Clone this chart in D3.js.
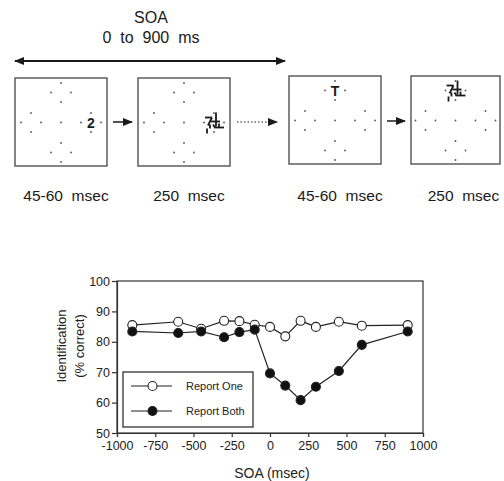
<!DOCTYPE html>
<html><head><meta charset="utf-8">
<script src="https://cdn.jsdelivr.net/npm/d3@7"></script>
<style>
body{margin:0;background:#fff;}
svg{display:block;font-family:"Liberation Sans",Arial,Helvetica,sans-serif;}
</style></head>
<body><svg id="c" width="504" height="481"></svg>
<script>
// ---- data ----
const soa = [-900, -600, -450, -300, -200, -100, 0, 100, 200, 300, 450, 600, 900];
const reportOne  = [85.5, 86.6, 84.3, 86.9, 86.8, 85.6, 84.9, 81.8, 86.9, 84.9, 86.6, 85.3, 85.5];
const reportBoth = [83.4, 82.9, 83.4, 81.5, 83.2, 84.0, 69.6, 65.6, 60.8, 65.2, 70.4, 79.0, 83.4];
const seriesNames = ["Report One", "Report Both"];
const xTicks = [-1000, -750, -500, -250, 0, 250, 500, 750, 1000];
const yTicks = [50, 60, 70, 80, 90, 100];
const frameLabels = ["45-60  msec", "250  msec", "45-60  msec", "250  msec"];
const frameItems = ["2", "mask", "T", "mask"];   // item shown in each frame
const itemSide = ["right", "right", "top", "top"];

(function () {
const svg = d3.select("#c");
const ink = "#1a1a1a";

// ---- top sequence diagram ----
const diag = svg.append("g");
diag.append("text").attr("x", 151).attr("y", 23).attr("text-anchor", "middle")
  .attr("font-size", 16).attr("fill", ink).text("SOA");
diag.append("text").attr("x", 151).attr("y", 43).attr("text-anchor", "middle")
  .attr("font-size", 16).attr("fill", ink).style("white-space", "pre").text("0  to  900  ms");

const defs = svg.append("defs");
defs.append("marker").attr("id", "ah").attr("viewBox", "0 0 10 10").attr("refX", 9).attr("refY", 5)
  .attr("markerWidth", 10).attr("markerHeight", 10).attr("markerUnits", "userSpaceOnUse")
  .attr("orient", "auto-start-reverse")
  .append("path").attr("d", "M0,1 L10,5 L0,9 Z").attr("fill", ink);

diag.append("line").attr("x1", 15).attr("x2", 285).attr("y1", 61).attr("y2", 61)
  .attr("stroke", ink).attr("stroke-width", 2)
  .attr("marker-start", "url(#ah)").attr("marker-end", "url(#ah)");

const boxes = [
  {x: 15, y: 78, w: 92, h: 88},
  {x: 138, y: 78, w: 92, h: 88},
  {x: 289, y: 76, w: 92, h: 88},
  {x: 411, y: 76, w: 89, h: 88}
];
const clusterOffsets = {top: [0, -30], right: [30, 0], bottom: [0, 30], left: [-30, 0]};
const dotOffsets = [[0, -9.5], [-10, 0], [10, 0], [0, 9.5]];

boxes.forEach((b, i) => {
  const g = diag.append("g");
  g.append("rect").attr("x", b.x).attr("y", b.y).attr("width", b.w).attr("height", b.h)
    .attr("fill", "#fff").attr("stroke", "#444").attr("stroke-width", 1.3);
  const cx = b.x + b.w / 2, cy = b.y + b.h / 2 + 0.5;
  g.append("circle").attr("cx", cx).attr("cy", cy).attr("r", 0.9).attr("fill", "#555");
  Object.entries(clusterOffsets).forEach(([side, [ox, oy]]) => {
    dotOffsets.forEach(([dx, dy]) => {
      g.append("circle").attr("cx", cx + ox + dx).attr("cy", cy + oy + dy).attr("r", 0.9).attr("fill", "#555");
    });
  });
  const [ox, oy] = clusterOffsets[itemSide[i]];
  const ix = cx + ox, iy = cy + oy;
  if (frameItems[i] === "mask") {
    const segs = [
      [-9, -5, -2, -5], [-2, -5, -6, 3], [2, -10, 2, 4], [-3, -1, 6, -1],
      [0, 5, 10, 5], [5, 1, 5, 5], [-4, 2, -4, 6], [-7, 6, -7, 11], [-1, 2, 1, 5]
    ];
    segs.forEach(s => g.append("line").attr("x1", ix + s[0]).attr("y1", iy + s[1])
      .attr("x2", ix + s[2]).attr("y2", iy + s[3]).attr("stroke", ink).attr("stroke-width", 1.8));
  } else {
    g.append("text").attr("x", ix).attr("y", iy + 5).attr("text-anchor", "middle")
      .attr("font-size", 14).attr("font-weight", "bold").attr("fill", ink).text(frameItems[i]);
  }
  g.append("text").attr("x", b.x + b.w / 2 + (i === 3 ? 8 : 5)).attr("y", 201).attr("text-anchor", "middle")
    .attr("font-size", 15.5).attr("fill", ink).style("white-space", "pre").text(frameLabels[i]);
});

// arrows between boxes
[[113, 132, 122, false], [237, 277, 122, true], [387, 405, 121, false]].forEach(([x1, x2, yy, dotted]) => {
  diag.append("line").attr("x1", x1).attr("x2", x2).attr("y1", yy).attr("y2", yy)
    .attr("stroke", ink).attr("stroke-width", dotted ? 1.2 : 1.5)
    .attr("stroke-dasharray", dotted ? "1.5,2" : null)
    .attr("marker-end", "url(#ah)");
});

// ---- chart ----
const x = d3.scaleLinear().domain([-1000, 1000]).range([117, 423]);
const y = d3.scaleLinear().domain([50, 100]).range([433, 281]);

const chart = svg.append("g");
chart.append("rect").attr("x", 117).attr("y", 281).attr("width", 306).attr("height", 152)
  .attr("fill", "none").attr("stroke", "#333").attr("stroke-width", 1.2);

const xAxis = chart.append("g").attr("transform", "translate(0,433)")
  .call(d3.axisBottom(x).tickValues(xTicks).tickSize(4).tickPadding(4).tickFormat(d => String(d)));
const yAxis = chart.append("g").attr("transform", "translate(117,0)")
  .call(d3.axisLeft(y).tickValues(yTicks).tickSize(5).tickPadding(2).tickFormat(d => String(d)));
[xAxis, yAxis].forEach(a => {
  a.select(".domain").attr("stroke", "#333").attr("stroke-width", 1.2);
  a.selectAll(".tick line").attr("stroke", "#333").attr("stroke-width", 1.2);
  a.selectAll(".tick text").attr("fill", "#222").attr("font-size", 12.5)
    .attr("font-family", "'Liberation Sans',Arial,sans-serif");
});

chart.append("text").attr("x", 272).attr("y", 478).attr("text-anchor", "middle")
  .attr("font-size", 14).attr("fill", "#222").text("SOA (msec)");
chart.append("text").attr("transform", "translate(66,346) rotate(-90)").attr("text-anchor", "middle")
  .attr("font-size", 13).attr("fill", "#222").text("Identification");
chart.append("text").attr("transform", "translate(84,346) rotate(-90)").attr("text-anchor", "middle")
  .attr("font-size", 13).attr("fill", "#222").text("(% correct)");

const line = d3.line().x((d, i) => x(soa[i])).y(d => y(d));
const series = [reportOne, reportBoth];
const fills = ["#fff", "#111"];
series.forEach((s) => {
  chart.append("path").datum(s).attr("d", line).attr("fill", "none")
    .attr("stroke", "#222").attr("stroke-width", 1.2);
});
series.forEach((s, k) => {
  chart.selectAll(null).data(s).join("circle")
    .attr("cx", (d, i) => x(soa[i])).attr("cy", d => y(d)).attr("r", 4.5)
    .attr("fill", fills[k]).attr("stroke", "#222").attr("stroke-width", 1.1);
});

// legend
const lg = chart.append("g");
lg.append("rect").attr("x", 123).attr("y", 372).attr("width", 130).attr("height", 55)
  .attr("fill", "#fff").attr("stroke", "#333").attr("stroke-width", 1.3);
seriesNames.forEach((n, k) => {
  const ly = 386 + k * 25;
  lg.append("line").attr("x1", 131).attr("x2", 172).attr("y1", ly).attr("y2", ly)
    .attr("stroke", "#222").attr("stroke-width", 1.2);
  lg.append("circle").attr("cx", 152.5).attr("cy", ly).attr("r", 4.5)
    .attr("fill", fills[k]).attr("stroke", "#222").attr("stroke-width", 1.1);
  lg.append("text").attr("x", 186).attr("y", ly + 4).attr("font-size", 11).attr("fill", "#222").text(n);
});
})();
</script></body></html>
